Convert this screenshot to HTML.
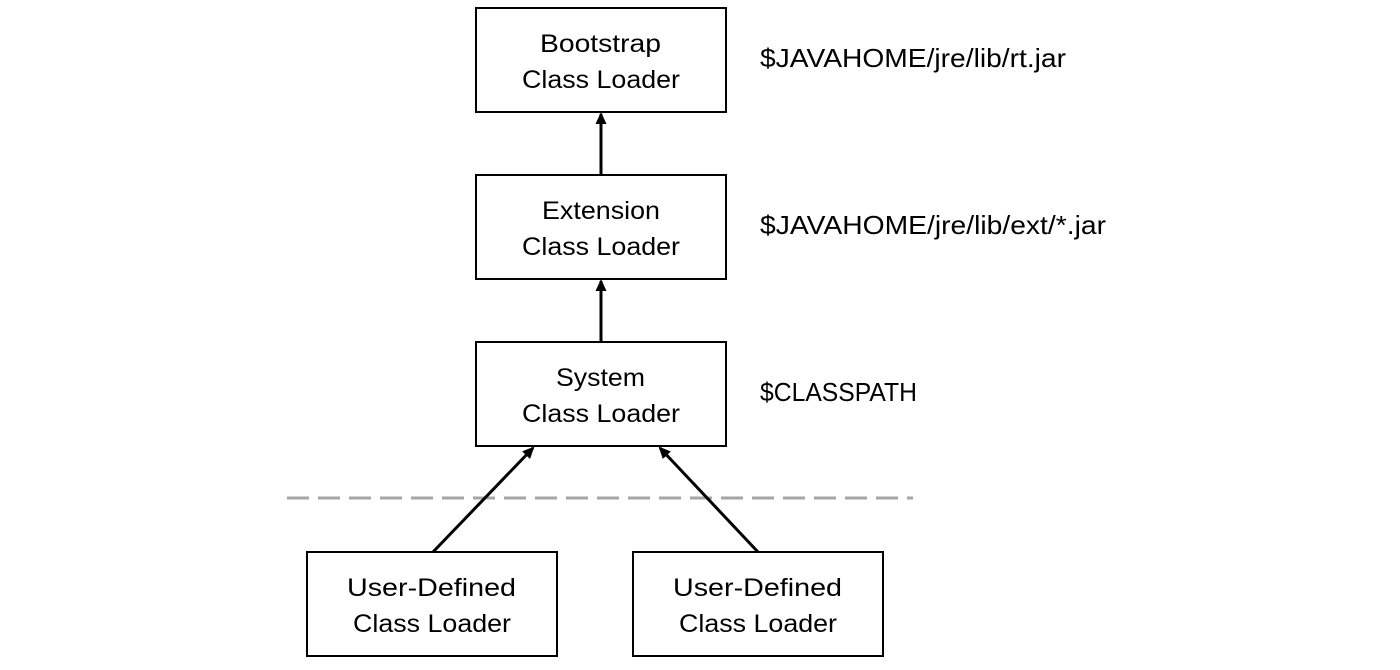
<!DOCTYPE html>
<html><head><meta charset="utf-8"><style>
body{margin:0;background:#fff;width:1400px;height:665px;overflow:hidden}
svg text{font-family:"Liberation Sans","Noto Sans CJK SC",sans-serif;fill:#000}
</style></head><body>
<svg width="1400" height="665" xmlns="http://www.w3.org/2000/svg">
<defs><marker id="a" markerWidth="12" markerHeight="12" refX="10" refY="6" orient="auto" markerUnits="userSpaceOnUse">
<path d="M0,0.5 L12,6 L0,11.5 z" fill="#000"/></marker></defs>
<g fill="#fff" stroke="#000" stroke-width="2">
<rect x="476" y="8" width="250" height="104"/>
<rect x="476" y="175" width="250" height="104"/>
<rect x="476" y="342" width="250" height="104"/>
<rect x="307" y="552" width="250" height="104"/>
<rect x="633" y="552" width="250" height="104"/>
</g>
<line x1="287" y1="498" x2="913" y2="498" stroke="#a6a6a6" stroke-width="3" stroke-dasharray="22,9"/>
<g stroke="#000" stroke-width="3">
<line x1="601" y1="175" x2="601" y2="114" marker-end="url(#a)"/>
<line x1="601" y1="342" x2="601" y2="281" marker-end="url(#a)"/>
<line x1="433" y1="552" x2="533" y2="448" marker-end="url(#a)"/>
<line x1="758" y1="552" x2="660" y2="448" marker-end="url(#a)"/>
</g>
<g font-size="25" lengthAdjust="spacingAndGlyphs">
<text x="540" y="52" textLength="121" lengthAdjust="spacingAndGlyphs">Bootstrap</text><text x="522" y="88" textLength="158" lengthAdjust="spacingAndGlyphs">Class Loader</text>
<text x="542" y="219" textLength="118" lengthAdjust="spacingAndGlyphs">Extension</text><text x="522" y="255" textLength="158" lengthAdjust="spacingAndGlyphs">Class Loader</text>
<text x="556" y="386" textLength="89" lengthAdjust="spacingAndGlyphs">System</text><text x="522" y="422" textLength="158" lengthAdjust="spacingAndGlyphs">Class Loader</text>
<text x="347" y="596" textLength="169" lengthAdjust="spacingAndGlyphs">User-Defined</text><text x="353" y="632" textLength="158" lengthAdjust="spacingAndGlyphs">Class Loader</text>
<text x="673" y="596" textLength="169" lengthAdjust="spacingAndGlyphs">User-Defined</text><text x="679" y="632" textLength="158" lengthAdjust="spacingAndGlyphs">Class Loader</text>
</g>
<g font-size="26">
<text x="760" y="67" textLength="306" lengthAdjust="spacingAndGlyphs">$JAVAHOME/jre/lib/rt.jar</text>
<text x="760" y="234" textLength="346" lengthAdjust="spacingAndGlyphs">$JAVAHOME/jre/lib/ext/*.jar</text>
<text x="760" y="401" textLength="157" lengthAdjust="spacingAndGlyphs">$CLASSPATH</text>
</g>
</svg>
</body></html>
